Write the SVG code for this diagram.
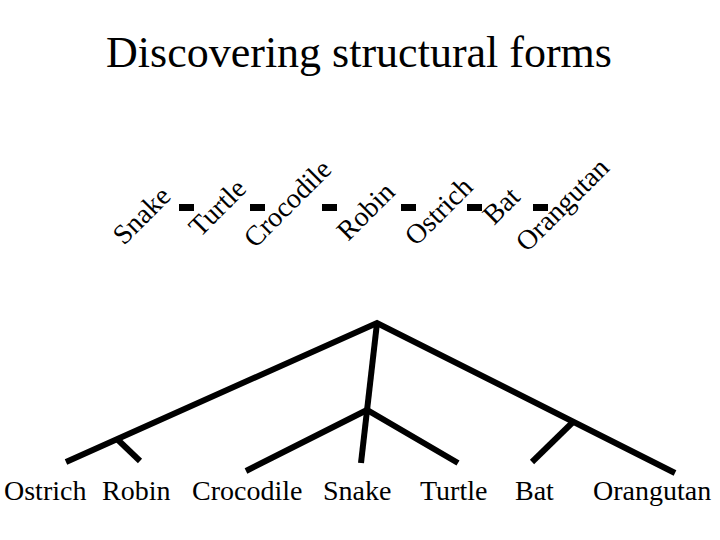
<svg xmlns="http://www.w3.org/2000/svg" width="720" height="540" viewBox="0 0 720 540">
<style>
  text { font-family: "Liberation Serif", "Times New Roman", serif; fill: #000; }
  .title { font-size: 44px; }
  .lbl { font-size: 28px; }
  .e { stroke: #000; stroke-width: 6; fill: none; stroke-linecap: butt; stroke-linejoin: miter; }
  .d { fill: #000; }
</style>
<rect width="720" height="540" fill="#fff"/>
<text class="title" x="359" y="67" text-anchor="middle">Discovering structural forms</text>

<g id="chain-nodes">
  <g id="c-snake"><text class="lbl" font-size="33" transform="translate(124,246) rotate(-45)">Snake</text></g>
  <g id="c-turtle"><text class="lbl" font-size="30" transform="translate(200,238) rotate(-45)">Turtle</text></g>
  <g id="c-crocodile"><text class="lbl" transform="translate(255,249) rotate(-45)">Crocodile</text></g>
  <g id="c-robin"><text class="lbl" font-size="33" transform="translate(348,242) rotate(-45)">Robin</text></g>
  <g id="c-ostrich"><text class="lbl" font-size="32" transform="translate(416,247) rotate(-45)">Ostrich</text></g>
  <g id="c-bat"><text class="lbl" font-size="29" transform="translate(494,226) rotate(-45)">Bat</text></g>
  <g id="c-orangutan"><text class="lbl" transform="translate(527,253) rotate(-45)">Orangutan</text></g>
</g>

<g id="connectors">
  <rect class="d" x="179" y="204" width="15" height="7"/>
  <rect class="d" x="250" y="204" width="15" height="7"/>
  <rect class="d" x="322" y="204" width="15" height="7"/>
  <rect class="d" x="401" y="204" width="15" height="7"/>
  <rect class="d" x="467" y="204" width="15" height="7"/>
  <rect class="d" x="533" y="204" width="15" height="7"/>
  <path class="e" d="M66,462 L377,323 L675,473"/>
  <path class="e" d="M117,439 L140,461"/>
  <path class="e" d="M377,323 L361,463"/>
  <path class="e" d="M246,471 L367,410 L458,463"/>
  <path class="e" d="M573,422 L532,462"/>
</g>

<g id="tree-nodes">
  <g id="t-ostrich"><text class="lbl" x="4" y="500">Ostrich</text></g>
  <g id="t-robin"><text class="lbl" x="102" y="500">Robin</text></g>
  <g id="t-crocodile"><text class="lbl" x="192" y="500">Crocodile</text></g>
  <g id="t-snake"><text class="lbl" x="323" y="500">Snake</text></g>
  <g id="t-turtle"><text class="lbl" x="420" y="500">Turtle</text></g>
  <g id="t-bat"><text class="lbl" x="515" y="500">Bat</text></g>
  <g id="t-orangutan"><text class="lbl" x="593" y="500">Orangutan</text></g>
</g>
</svg>
